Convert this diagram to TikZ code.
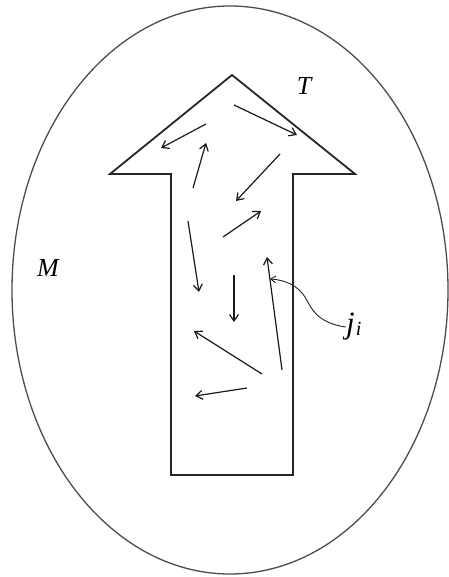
\documentclass[tikz,border=0pt]{standalone}
\usepackage{fontspec}
\setmainfont{Liberation Serif}
\newfontfamily\lblfont{Liberation Serif Italic}
\usetikzlibrary{arrows.meta}
\begin{document}
\begin{tikzpicture}[x=1pt,y=-1pt,
  vec/.style={-{Straight Barb[length=6.5pt,width=9pt]}, line width=1.2pt, draw=black!90},
  lbl/.style={font=\fontsize{26}{30}\selectfont\lblfont, inner sep=0pt},
  outline/.style={line width=1.8pt, draw=black!85, line join=miter}]
\useasboundingbox (0,0) rectangle (448,577);
\draw[line width=1.3pt, black!70] (230,290) ellipse [x radius=218, y radius=284];
\draw[outline] (232,75) -- (355,174) -- (293,174) -- (293,475) -- (171,475) -- (171,174) -- (110,174) -- cycle;
% labels
\node[lbl] (T) at (304,86) {T};
\node[lbl] (M) at (48,268) {M};
\node[lbl, anchor=west] (ji) at (346,327) {\fontsize{31}{31}\selectfont j\kern1pt\raisebox{-2pt}{\fontsize{20}{20}\selectfont\lblfont i}};
% small vectors
\coordinate (a1) at (234,105); \coordinate (b1) at (297,135);
\coordinate (a2) at (206,124); \coordinate (b2) at (161,148);
\coordinate (a3) at (193,188); \coordinate (b3) at (206,143);
\coordinate (a4) at (280,154); \coordinate (b4) at (236,201);
\coordinate (a5) at (223,237); \coordinate (b5) at (261,211);
\coordinate (a6) at (188,221); \coordinate (b6) at (199,292);
\coordinate (a7) at (234,275); \coordinate (b7) at (234,322);
\coordinate (a8) at (282,370); \coordinate (b8) at (267,257);
\coordinate (a9) at (262,374); \coordinate (b9) at (194,331);
\coordinate (a10) at (247,388); \coordinate (b10) at (195,396);
\foreach \i in {1,...,10} \draw[vec] (a\i) -- (b\i);
% label pointer
\coordinate (jtip) at (270,279);
\draw[-{Straight Barb[length=5pt,width=7pt]}, line width=0.9pt, black!85]
  (ji.west) .. controls (315,323) and (310,305) .. (305,297)
  .. controls (298,286) and (286,280) .. (jtip);
\end{tikzpicture}
\end{document}
